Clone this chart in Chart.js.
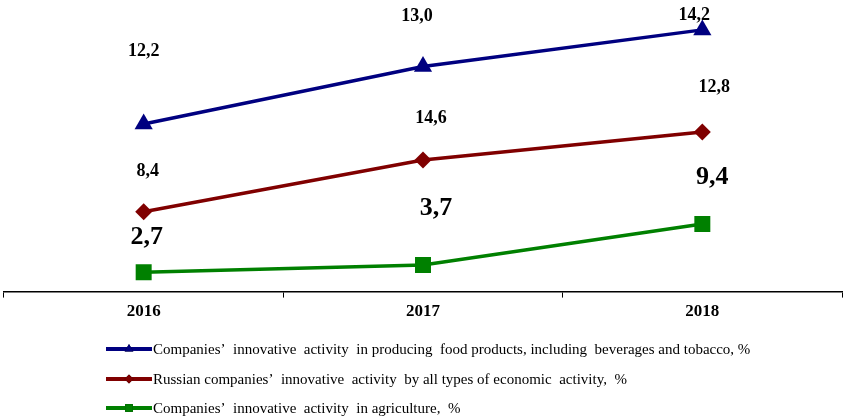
<!DOCTYPE html>
<html><head><meta charset="utf-8">
<script src="https://cdn.jsdelivr.net/npm/chart.js@4/dist/chart.umd.min.js"></script>
<style>html,body{margin:0;padding:0;background:#fff}#wrap{width:846px;height:418px}</style>
</head><body><div id="wrap"><canvas id="c" width="846" height="418"></canvas></div>
<script>
// ---- data ----
const years = ['2016', '2017', '2018'];
const foodValues = [12.2, 13.0, 14.2];
const russiaValues = [8.4, 14.6, 12.8];
const agriValues = [2.7, 3.7, 9.4];
const foodName = 'Companies’  innovative  activity  in producing  food products, including  beverages and tobacco, %';
const russiaName = 'Russian companies’  innovative  activity  by all types of economic  activity,  %';
const agriName = 'Companies’  innovative  activity  in agriculture,  %';

// ---- styling / layout ----
const SERIF = '"Liberation Serif", "Times New Roman", serif';
const fmt = v => v.toFixed(1).replace('.', ',');
// label offsets from each point (px: dx to centre, dy to baseline), per dataset
const labelStyle = {
  agri:   { size: 26, offsets: [[3, -28], [13, -50], [10, -40]] },
  russia: { size: 18, offsets: [[4, -36], [8, -37], [12, -40]] },
  food:   { size: 18, offsets: [[0, -68], [-6, -46], [-8, -10]] }
};

const datasets = [
  { key: 'agri', label: agriName, data: agriValues, borderColor: '#008000', backgroundColor: '#008000',
    pointStyle: 'rect', pointRadius: 11.3, legendRadius: 5.5 },
  { key: 'russia', label: russiaName, data: russiaValues, borderColor: '#800000', backgroundColor: '#800000',
    pointStyle: 'rectRot', pointRadius: 8.5, legendRadius: 4.5 },
  { key: 'food', label: foodName, data: foodValues, borderColor: '#000080', backgroundColor: '#000080',
    pointStyle: 'triangle', pointRadius: 10.5, legendRadius: 5 }
].map(d => Object.assign(d, { borderWidth: 3.5, fill: false, tension: 0, pointBorderWidth: 0, pointHoverRadius: d.pointRadius }));

const legendOrder = ['food', 'russia', 'agri'];
const legendRows = [349, 379, 408];

const labelPlugin = {
  id: 'valueLabels',
  afterDatasetsDraw(chart) {
    const ctx = chart.ctx;
    ctx.save();
    ctx.fillStyle = '#000';
    ctx.textAlign = 'center';
    ctx.textBaseline = 'alphabetic';
    chart.data.datasets.forEach((ds, i) => {
      const st = labelStyle[ds.key];
      ctx.font = 'bold ' + st.size + 'px ' + SERIF;
      chart.getDatasetMeta(i).data.forEach((pt, j) => {
        const o = st.offsets[j];
        ctx.fillText(fmt(ds.data[j]), pt.x + o[0], pt.y + o[1]);
      });
    });
    ctx.restore();
  }
};

const legendPlugin = {
  id: 'customLegend',
  afterDraw(chart) {
    const ctx = chart.ctx;
    ctx.save();
    legendOrder.forEach((key, r) => {
      const ds = chart.data.datasets.find(d => d.key === key);
      const y = legendRows[r];
      ctx.strokeStyle = ds.borderColor;
      ctx.lineWidth = 4;
      ctx.beginPath();
      ctx.moveTo(106, y);
      ctx.lineTo(152, y);
      ctx.stroke();
      Chart.helpers.drawPoint(ctx, { pointStyle: ds.pointStyle, radius: ds.legendRadius, borderWidth: 0 }, 129, y);
      ctx.fillStyle = ds.borderColor;
      ctx.fill();
      ctx.fillStyle = '#000';
      ctx.font = '15px ' + SERIF;
      ctx.textAlign = 'left';
      ctx.textBaseline = 'middle';
      ctx.fillText(ds.label, 153, y + 1);
    });
    ctx.restore();
  }
};

new Chart(document.getElementById('c'), {
  type: 'line',
  data: { labels: years, datasets },
  options: {
    responsive: false,
    animation: false,
    devicePixelRatio: 1,
    layout: { autoPadding: false, padding: { left: 4, right: 4, top: 4, bottom: 92 } },
    plugins: { legend: { display: false }, tooltip: { enabled: false } },
    scales: {
      x: {
        offset: true,
        border: { display: true, color: '#000', width: 1.5 },
        grid: { display: true, offset: true, drawOnChartArea: false, drawTicks: true, tickLength: 6, color: '#000', lineWidth: 1 },
        ticks: { color: '#000', padding: 4, font: { family: SERIF, size: 17, weight: 'bold' } }
      },
      y: { display: false, stacked: true, min: 0, max: 40 }
    }
  },
  plugins: [labelPlugin, legendPlugin]
});
</script></body></html>
